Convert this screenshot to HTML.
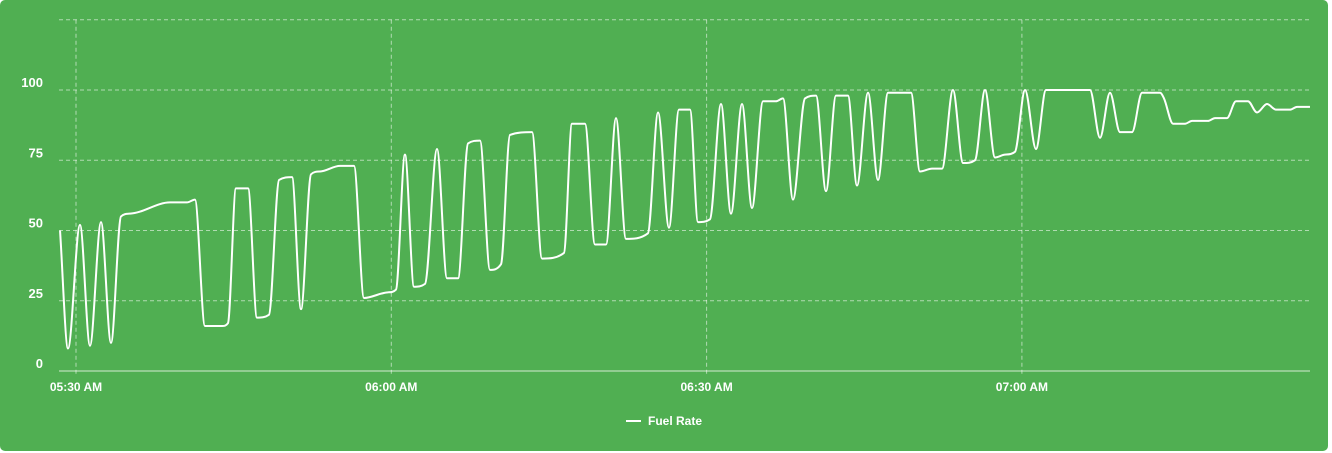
<!DOCTYPE html>
<html><head><meta charset="utf-8"><style>
html,body{margin:0;padding:0;background:#fff;}
#card{position:absolute;left:0;top:0;width:1328px;height:451px;background:#50af52;border-radius:5px;}
svg{position:absolute;left:0;top:0;}
text{font-family:"Liberation Sans",sans-serif;fill:#fff;}
</style></head><body>
<div id="card"></div>
<svg id="chart" width="1332" height="453"></svg>
<script>
const minutes=[-1.52,-0.76,0.38,1.33,2.38,3.33,4.28,5.14,8.94,10.56,11.32,12.27,13.89,14.46,15.22,16.37,17.22,18.36,19.32,20.55,21.41,22.36,23.22,25.12,26.45,27.40,29.69,30.45,31.30,32.16,33.21,34.35,35.30,36.35,37.30,38.44,39.39,40.44,41.29,43.39,44.34,46.43,47.19,48.43,49.38,50.43,51.38,52.33,54.42,55.38,56.42,57.37,58.42,59.18,60.32,61.37,62.32,63.37,64.32,65.37,66.60,67.27,68.22,69.36,70.41,71.36,72.31,73.45,74.31,75.36,76.31,77.26,79.45,80.30,81.45,82.40,83.44,84.40,85.54,86.49,87.44,88.39,89.34,90.30,91.34,92.29,96.48,97.43,98.38,99.33,100.48,101.43,103.14,103.52,104.38,105.52,106.19,107.71,108.37,109.51,110.37,111.51,112.37,113.32,114.18,115.52,116.18,117.41];
const fuelRate=[50,8,52,9,53,10,55,56,60,60,61,16,16,17,65,65,19,20,68,69,22,70,71,73,73,26,28,29,77,30,31,79,33,33,81,82,36,38,84,85,40,42,88,88,45,45,90,47,49,92,51,93,93,53,54,95,56,95,58,96,96,97,61,97,98,64,98,98,66,99,68,99,99,71,72,72,100,74,75,100,76,77,78,100,79,100,100,83,99,85,85,99,99,97,88,88,89,89,90,90,96,96,92,95,93,93,94,94];
const yTicks=[0,25,50,75,100,125];
const yTickLabels=["0","25","50","75","100",""];
const xTicks=[0,30,60,90];
const xTickLabels=["05:30 AM","06:00 AM","06:30 AM","07:00 AM"];
const seriesName="Fuel Rate";

const NS="http://www.w3.org/2000/svg";
const svg=document.getElementById('chart');
const X0=59,X1=1310,Y0=371;
function xs(m){return 76+m*10.51;}
function ys(v){return Y0-v*2.81;}
function mk(tag,attrs,parent){const e=document.createElementNS(NS,tag);for(const k in attrs)e.setAttribute(k,attrs[k]);(parent||svg).appendChild(e);return e;}

yTicks.forEach((t,i)=>{
  if(t>0){
    const g=mk('line',{x1:X0,x2:X1,y1:ys(t),y2:ys(t),stroke:'rgba(255,255,255,0.55)','stroke-dasharray':'4,3','stroke-width':1});
    
    
  }
  if(yTickLabels[i]){
    const tx=mk('text',{x:43,y:ys(t)-3,'text-anchor':'end','font-size':13,'font-weight':'bold'});
    tx.textContent=yTickLabels[i];
    
    
  }
});
xTicks.forEach((t,i)=>{
  const g=mk('line',{x1:xs(t),x2:xs(t),y1:ys(125),y2:Y0+5,stroke:'rgba(255,255,255,0.55)','stroke-dasharray':'4,3','stroke-width':1});
  
  
  const tx=mk('text',{x:xs(t),y:Y0+20,'text-anchor':'middle','font-size':12,'font-weight':'bold'});
  tx.textContent=xTickLabels[i];
  
  
});
const ax=mk('line',{x1:X0,x2:X1,y1:Y0,y2:Y0,stroke:'rgba(255,255,255,0.75)','stroke-width':1});



// monotone cubic path
const px=minutes.map(xs),py=fuelRate.map(ys);
const n=px.length,d=[],m=[];
for(let i=0;i<n-1;i++)d.push((py[i+1]-py[i])/(px[i+1]-px[i]));
m[0]=d[0];m[n-1]=d[n-2];
for(let i=1;i<n-1;i++){m[i]=(d[i-1]*d[i]<=0)?0:(d[i-1]+d[i])/2;}
for(let i=0;i<n-1;i++){
  if(d[i]===0){m[i]=0;m[i+1]=0;continue;}
  const a=m[i]/d[i],b=m[i+1]/d[i],s=a*a+b*b;
  if(s>9){const t=3/Math.sqrt(s);m[i]=t*a*d[i];m[i+1]=t*b*d[i];}
}
let p='M'+px[0]+','+py[0];
for(let i=0;i<n-1;i++){
  const h=(px[i+1]-px[i])/3;
  p+=' C'+(px[i]+h)+','+(py[i]+m[i]*h)+' '+(px[i+1]-h)+','+(py[i+1]-m[i+1]*h)+' '+px[i+1]+','+py[i+1];
}
const line=mk('path',{d:p,fill:'none',stroke:'#fff','stroke-width':2});



const lg=mk('g',{});


mk('line',{x1:626,x2:641,y1:421,y2:421,stroke:'#fff','stroke-width':2},lg);
const lt=mk('text',{x:648,y:425,'font-size':12,'font-weight':'bold'},lg);
lt.textContent=seriesName;
</script>
</body></html>
